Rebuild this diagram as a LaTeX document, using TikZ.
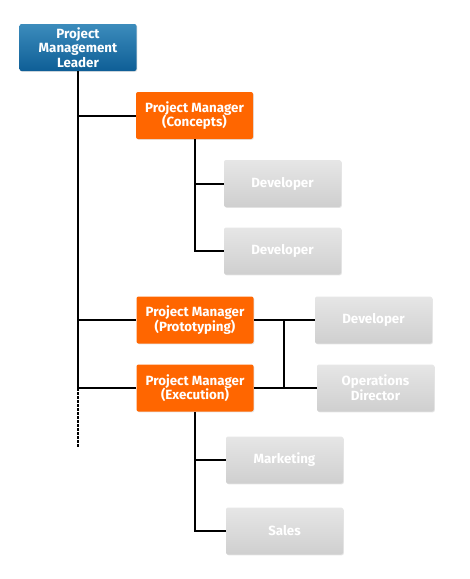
\documentclass[tikz,border=0pt]{standalone}
\usepackage{fontspec}
\setmainfont{Fira Sans}
\usetikzlibrary{shadows}
\definecolor{leaderblue}{HTML}{0E5E96}
\definecolor{leadertop}{HTML}{3C8CBC}
\definecolor{pmorange}{HTML}{FF6600}
\definecolor{staffgrey}{HTML}{CFCFCF}
\definecolor{stafftop}{HTML}{E6E6E6}
\begin{document}
\begin{tikzpicture}[x=0.75pt,y=-0.75pt,
    box/.style={minimum width=87.75pt,minimum height=35.25pt,inner sep=0pt,
        align=center,rounded corners=1.5pt,font=\fontsize{10}{11}\selectfont\bfseries,
        text=white,drop shadow={shadow xshift=0.6pt,shadow yshift=-0.6pt,opacity=0.2}},
    leaderbox/.style={box,top color=leadertop,bottom color=leaderblue},
    pmbox/.style={box,fill=pmorange},
    staffbox/.style={box,top color=stafftop,bottom color=staffgrey},
    link/.style={line width=1.5pt}]
    \useasboundingbox (0,0) rectangle (470,579);

    \node (leader) [leaderbox] at (78,47.5) {Project\\Management\\Leader};

    \node (concepts) [pmbox] at (194.5,115.5) {Project Manager\\(Concepts)};
    \node (dev1) [staffbox] at (282.5,183.5) {Developer};
    \node (dev2) [staffbox] at (282.5,251) {Developer};

    \node (proto) [pmbox] at (195,320) {Project Manager\\(Prototyping)};
    \node (dev3) [staffbox] at (373.5,320) {Developer};
    \node (exec) [pmbox] at (195,388) {Project Manager\\(Execution)};
    \node (ops) [staffbox] at (375.5,388) {Operations\\Director};

    \node (mkt) [staffbox] at (284.5,460) {Marketing};
    \node (sales) [staffbox] at (284.5,531) {Sales};

    \coordinate (trunk) at (78,388);
    \coordinate (trunkend) at (78,447);
    \coordinate (fork) at (284,320);

    % leader trunk
    \draw [link] (leader.south) -- (trunk);
    \draw [link,dash pattern=on 2.2pt off 0.8pt] (trunk) -- (trunkend);
    \path [link]
        (leader.south |- concepts) edge (concepts.west)
        (leader.south |- proto) edge (proto.west)
        (trunk) edge (exec.west)
    ;

    % staff branches
    \draw [link] (concepts.south) -- (concepts.south |- dev2) -- (dev2.west);
    \draw [link] (concepts.south |- dev1) -- (dev1.west);
    \draw [link] (proto.east) -- (dev3.west);
    \draw [link] (exec.east) -- (ops.west);
    \draw [link] (fork) -- (fork |- ops);
    \draw [link] (exec.south) -- (exec.south |- sales) -- (sales.west);
    \draw [link] (exec.south |- mkt) -- (mkt.west);
\end{tikzpicture}
\end{document}
